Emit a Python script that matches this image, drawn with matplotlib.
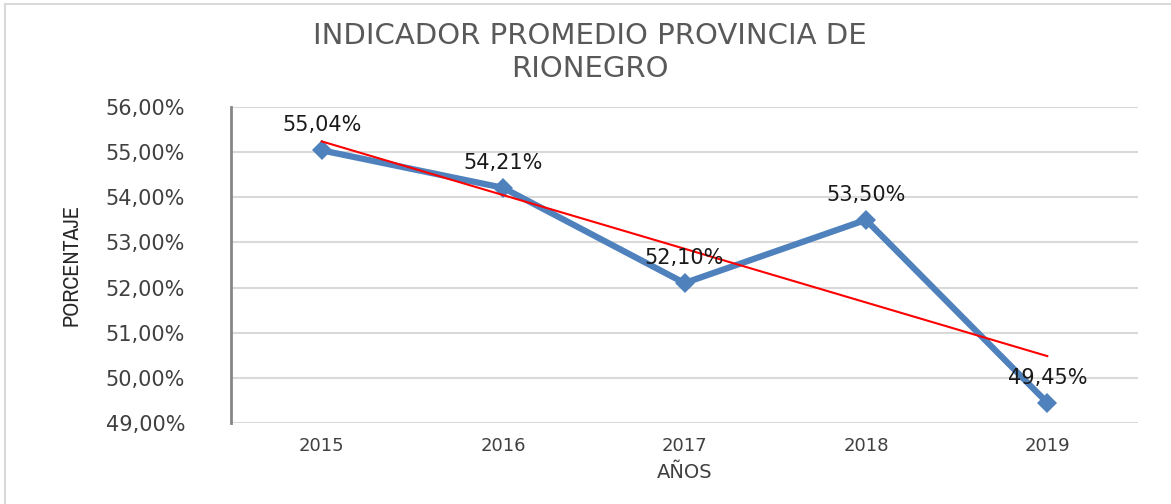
import numpy as np
import matplotlib
matplotlib.use('Agg')
import matplotlib.pyplot as plt
from matplotlib.lines import Line2D
from matplotlib import font_manager

# data
years = ['2015', '2016', '2017', '2018', '2019']
values = [55.04, 54.21, 52.10, 53.50, 49.45]
labels = ['55,04%', '54,21%', '52,10%', '53,50%', '49,45%']
y_ticks = [49, 50, 51, 52, 53, 54, 55, 56]

title = 'INDICADOR PROMEDIO PROVINCIA DE\nRIONEGRO'
gray_txt = '#404040'
blue = '#4F81BD'

plt.rcParams['font.family'] = ['DejaVu Sans']

names = sorted({f.name for f in font_manager.fontManager.ttflist})
narrow = [n for n in names if 'Narrow' in n or 'Condensed' in n]

fig = plt.figure(figsize=(11.71, 5.04), dpi=100)
ax = fig.add_axes([0.1973, 0.1607, 0.7745, 0.627])

x = np.arange(len(years))
ax.plot(x, values, color=blue, lw=4.5, marker='D', ms=10, mew=0, zorder=3)

# linear trendline (red)
coef = np.polyfit(x, values, 1)
ax.plot(x, np.polyval(coef, x), color='#FF0000', lw=1.5, zorder=4)

for xi, v, lab in zip(x, values, labels):
    ax.annotate(lab, (xi, v), xytext=(0, 18), textcoords='offset points',
                ha='center', va='center', fontsize=15, color='#1a1a1a', zorder=5)

ax.set_xlim(-0.5, len(years) - 0.5)
ax.set_ylim(49, 56)
ax.set_xticks(x)
ax.set_xticklabels(years, fontsize=13, color=gray_txt)
ax.set_yticks(y_ticks)
ax.set_yticklabels(['%d,00%%' % t for t in y_ticks], fontsize=15, color=gray_txt)
ax.tick_params(length=0)
ax.tick_params(axis='y', pad=33)
ax.tick_params(axis='x', pad=10)
ax.grid(axis='y', color='#D9D9D9', lw=1.5)
ax.set_axisbelow(True)
for s in ['top', 'right', 'bottom']:
    ax.spines[s].set_visible(False)
ax.spines['left'].set_color('#868686')
ax.spines['left'].set_linewidth(2)

ax.set_xlabel('AÑOS', fontsize=14, color=gray_txt, labelpad=6)
yl_family = narrow[0] if narrow else 'DejaVu Sans'
fig.text(0.061, 0.474, 'PORCENTAJE', rotation=90, ha='center', va='center',
         fontsize=16, color='#262626', family=[yl_family, 'DejaVu Sans'],
         fontstretch='condensed')

fig.text(0.504, 0.896, title, ha='center', va='center', fontsize=21,
         color='#595959', linespacing=1.2)

# outer chart border
fig.add_artist(Line2D([0.0043, 0.0043], [0, 0.992], color='#D9D9D9', lw=1.5))
fig.add_artist(Line2D([0.0043, 1], [0.992, 0.992], color='#D9D9D9', lw=1.5))

fig.savefig('out.png', dpi=100)
